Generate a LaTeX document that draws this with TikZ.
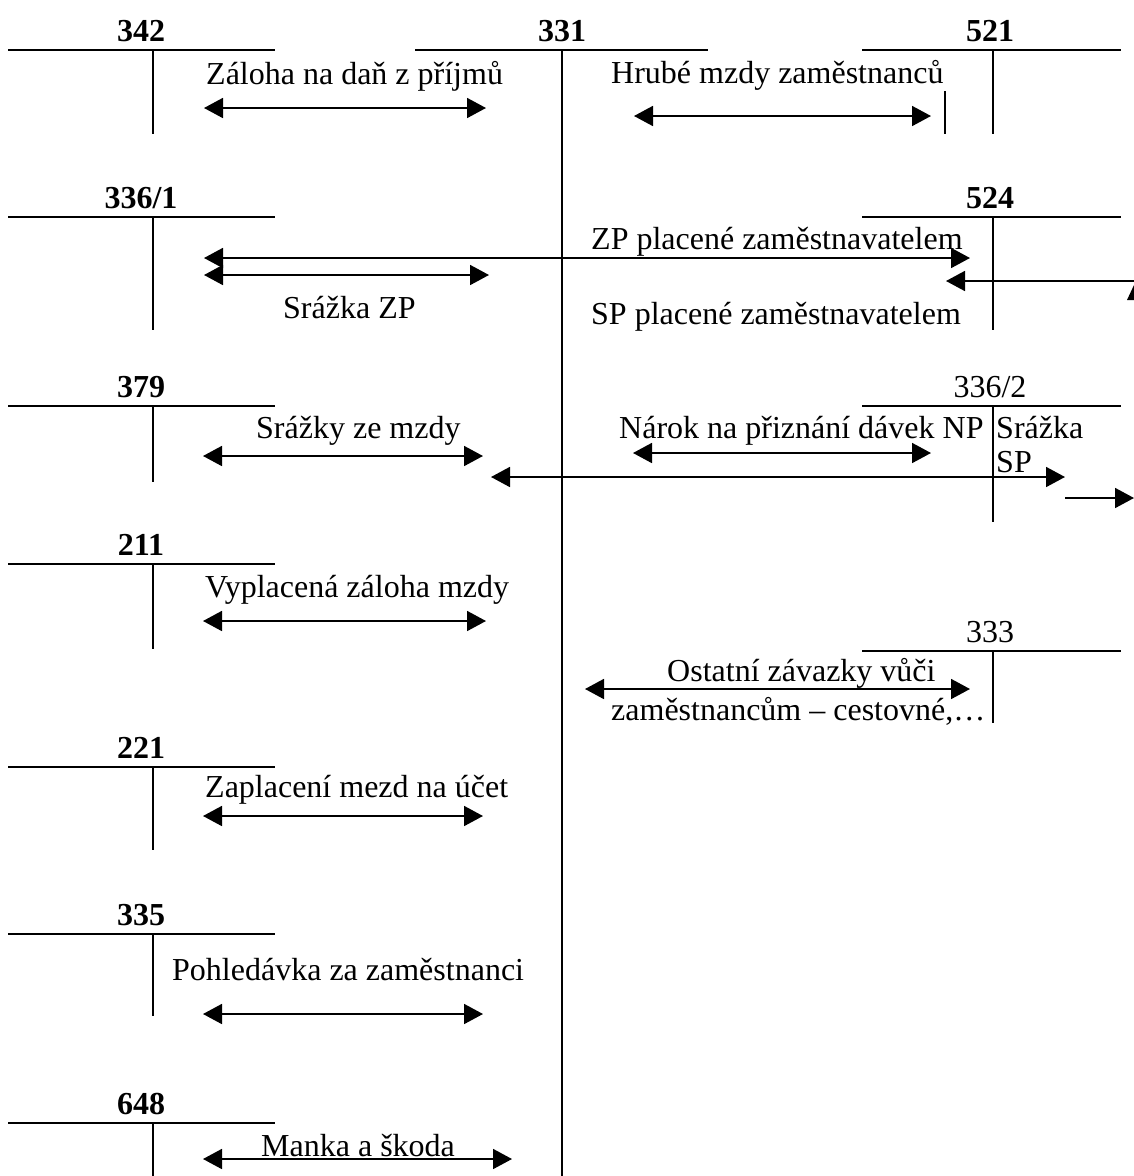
\documentclass[tikz,border=0pt]{standalone}
\usepackage{fontspec}
\setmainfont{Liberation Serif}
\usetikzlibrary{arrows.meta}
\newcommand\TAcc[8]{%
  \coordinate (#1l) at (#3,#6); \coordinate (#1r) at (#4,#6);
  \coordinate (#1t) at (#5,#6); \coordinate (#1b) at (#5,#7);
  \draw[tline] (#1l) -- (#1r);
  \draw[tline] (#1t) -- (#1b);
  \node[numlbl] (#1) at (#8,#6-9) {#2};}
\begin{document}
\begin{tikzpicture}[x=1pt,y=-1pt,
  >={Triangle[length=19pt,width=20pt]},
  tline/.style={line width=2.2pt},
  numlbl/.style={anchor=base,inner sep=0pt,font=\fontsize{32}{38}\selectfont\bfseries},
  lbl/.style={anchor=base west,inner sep=0pt,font=\fontsize{32}{38}\selectfont},
  dbl/.style={<->,line width=1.8pt},
  sgl/.style={->,line width=1.8pt}]
\useasboundingbox (0,0) rectangle (1134,1176);
% left accounts
\TAcc{a342}{342}{8}{275}{153}{50}{134}{141}
\TAcc{a3361}{336/1}{8}{275}{153}{217}{330}{141}
\TAcc{a379}{379}{8}{275}{153}{406}{482}{141}
\TAcc{a211}{211}{8}{275}{153}{564}{649}{141}
\TAcc{a221}{221}{8}{275}{153}{767}{850}{141}
\TAcc{a335}{335}{8}{275}{153}{934}{1016}{141}
\TAcc{a648}{648}{8}{275}{153}{1123}{1176}{141}
% central account
\TAcc{a331}{331}{415}{708}{562}{50}{1176}{562}
% right accounts
\TAcc{a521}{521}{862}{1121}{993}{50}{134}{990}
\TAcc{a524}{524}{862}{1121}{993}{217}{330}{990}
\TAcc{a3362}{\mdseries 336/2}{862}{1121}{993}{406}{522}{990}
\TAcc{a333}{\mdseries 333}{862}{1121}{993}{651}{723}{990}
% small vertical near 521
\coordinate (sv1) at (945,91); \coordinate (sv2) at (945,134);
\draw[line width=1.8pt] (sv1) -- (sv2);
% labels
\node[lbl] (t1) at (206,84) {Záloha na daň z příjmů};
\node[lbl] (t2) at (611,83) {Hrubé mzdy zaměstnanců};
\node[lbl] (t3) at (591,249) {ZP placené zaměstnavatelem};
\node[lbl] (t4) at (283,318) {Srážka ZP};
\node[lbl] (t5) at (591,324) {SP placené zaměstnavatelem};
\node[lbl] (t6) at (256,438) {Srážky ze mzdy};
\node[lbl] (t7) at (619,438) {Nárok na přiznání dávek NP};
\node[lbl] (t8) at (996,438) {Srážka};
\node[lbl] (t9) at (996,472) {SP};
\node[lbl] (t10) at (205,597) {Vyplacená záloha mzdy};
\node[lbl] (t11) at (667,681) {Ostatní závazky vůči};
\node[lbl] (t12) at (611,720) {zaměstnancům – cestovné,…};
\node[lbl] (t13) at (205,797) {Zaplacení mezd na účet};
\node[lbl] (t14) at (172,980) {Pohledávka za zaměstnanci};
\node[lbl] (t15) at (261,1156) {Manka a škoda};
% arrows
\coordinate (p1a) at (204,108);  \coordinate (p1b) at (486,108);
\coordinate (p2a) at (634,116);  \coordinate (p2b) at (931,116);
\coordinate (p3a) at (204,258);  \coordinate (p3b) at (970,258);
\coordinate (p4a) at (204,275);  \coordinate (p4b) at (489,275);
\coordinate (p5a) at (1134,281); \coordinate (p5b) at (946,281);
\coordinate (p6a) at (203,456);  \coordinate (p6b) at (483,456);
\coordinate (p7a) at (633,453);  \coordinate (p7b) at (931,453);
\coordinate (p8a) at (491,477);  \coordinate (p8b) at (1065,477);
\coordinate (p9a) at (1065,498); \coordinate (p9b) at (1134,498);
\coordinate (p10a) at (203,621); \coordinate (p10b) at (486,621);
\coordinate (p11a) at (585,689); \coordinate (p11b) at (970,689);
\coordinate (p12a) at (203,816); \coordinate (p12b) at (483,816);
\coordinate (p13a) at (203,1014); \coordinate (p13b) at (483,1014);
\coordinate (p14a) at (203,1159); \coordinate (p14b) at (512,1159);
\draw[dbl] (p1a) -- (p1b);
\draw[dbl] (p2a) -- (p2b);
\draw[dbl] (p3a) -- (p3b);
\draw[dbl] (p4a) -- (p4b);
\draw[sgl] (p5a) -- (p5b);
\draw[dbl] (p6a) -- (p6b);
\draw[dbl] (p7a) -- (p7b);
\draw[dbl] (p8a) -- (p8b);
\draw[sgl] (p9a) -- (p9b);
\draw[dbl] (p10a) -- (p10b);
\draw[dbl] (p11a) -- (p11b);
\draw[dbl] (p12a) -- (p12b);
\draw[dbl] (p13a) -- (p13b);
\draw[dbl] (p14a) -- (p14b);
% partial arrow head at right edge
\fill (1127,300) -- (1134,285) -- (1134,300) -- cycle;
\end{tikzpicture}
\end{document}
